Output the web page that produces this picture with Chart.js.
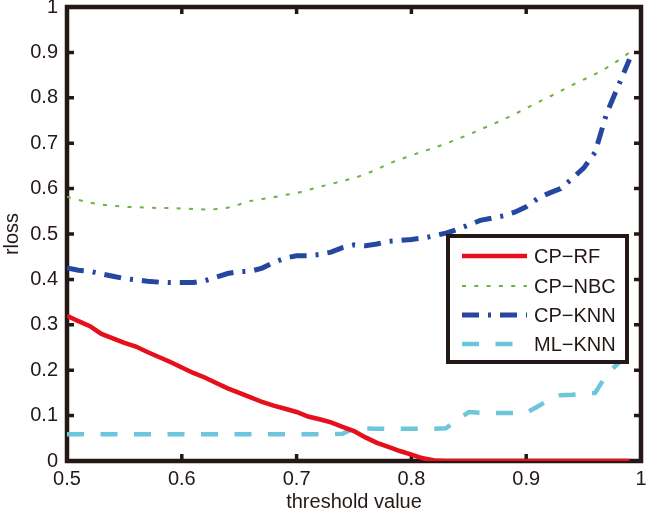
<!DOCTYPE html>
<html><head><meta charset="utf-8">
<script src="https://cdn.jsdelivr.net/npm/chart.js@4.4.1/dist/chart.umd.min.js"></script>
<style>html,body{margin:0;padding:0;background:#fff}canvas{display:block}</style>
</head><body>
<canvas id="c" width="646" height="514"></canvas>
<script>
const thresholds = [0.50,0.51,0.52,0.53,0.54,0.55,0.56,0.57,0.58,0.59,
  0.60,0.61,0.62,0.63,0.64,0.65,0.66,0.67,0.68,0.69,
  0.70,0.71,0.72,0.73,0.74,0.75,0.76,0.77,0.78,0.79,
  0.80,0.81,0.82,0.83,0.84,0.85,0.86,0.87,0.88,0.89,
  0.90,0.91,0.92,0.93,0.94,0.95,0.96,0.97,0.98,0.99];

const cpRF = [0.320,0.308,0.297,0.280,0.270,0.260,0.252,0.240,0.229,0.218,
  0.206,0.194,0.184,0.172,0.160,0.150,0.140,0.130,0.122,0.115,
  0.108,0.098,0.092,0.085,0.075,0.066,0.052,0.040,0.031,0.022,
  0.014,0.006,0.001,0,0,0,0,0,0,0,
  0,0,0,0,0,0,0,0,0,0];

const cpNBC = [0.582,0.575,0.569,0.565,0.562,0.560,0.559,0.558,0.557,0.557,
  0.556,0.555,0.554,0.555,0.558,0.565,0.573,0.577,0.581,0.586,
  0.590,0.597,0.604,0.610,0.617,0.623,0.632,0.642,0.655,0.664,
  0.673,0.682,0.690,0.699,0.709,0.719,0.730,0.741,0.752,0.764,
  0.777,0.790,0.802,0.815,0.828,0.840,0.852,0.866,0.882,0.900];

const cpKNN = [0.425,0.420,0.418,0.412,0.407,0.402,0.399,0.396,0.394,0.393,
  0.393,0.393,0.397,0.405,0.413,0.417,0.418,0.425,0.437,0.447,
  0.452,0.452,0.455,0.460,0.470,0.476,0.474,0.478,0.484,0.486,
  0.488,0.491,0.496,0.502,0.510,0.520,0.530,0.535,0.540,0.548,
  0.560,0.578,0.590,0.600,0.622,0.645,0.680,0.765,0.825,0.885];

const mlKNN = [0.059,0.059,0.059,0.059,0.059,0.059,0.059,0.059,0.059,0.059,
  0.059,0.059,0.059,0.059,0.059,0.059,0.059,0.059,0.059,0.059,
  0.059,0.059,0.059,0.059,0.060,0.072,0.072,0.071,0.071,0.071,
  0.071,0.071,0.071,0.072,0.090,0.108,0.106,0.106,0.106,0.106,
  0.106,0.120,0.135,0.145,0.146,0.148,0.150,0.190,0.215,0.235];

const seriesNames = ['CP\u2212RF','CP\u2212NBC','CP\u2212KNN','ML\u2212KNN'];
const xTickLabels = ['0.5','0.6','0.7','0.8','0.9','1'];
const yTickLabels = ['0','0.1','0.2','0.3','0.4','0.5','0.6','0.7','0.8','0.9','1'];

const FONT = '"Liberation Sans", Arial, Helvetica, sans-serif';
const INK = '#231815';

function pts(ys){ return thresholds.map((x,i)=>({x:x,y:ys[i]})); }

const framePlugin = {
  id:'frame',
  beforeDatasetsDraw(chart){
    const {ctx, chartArea:a, scales} = chart;
    ctx.save();
    ctx.strokeStyle = INK;
    ctx.lineWidth = 4.5;
    ctx.strokeRect(a.left, a.top, a.right-a.left, a.bottom-a.top);
    ctx.lineWidth = 3.5;
    ctx.beginPath();
    for (let i=1;i<yTickLabels.length-1;i++){
      const py = scales.y.getPixelForValue(parseFloat(yTickLabels[i]));
      ctx.moveTo(a.left, py); ctx.lineTo(a.left+7, py);
      ctx.moveTo(a.right, py); ctx.lineTo(a.right-7, py);
    }
    for (let i=1;i<xTickLabels.length-1;i++){
      const px = scales.x.getPixelForValue(parseFloat(xTickLabels[i]));
      ctx.moveTo(px, a.bottom); ctx.lineTo(px, a.bottom-7);
      ctx.moveTo(px, a.top); ctx.lineTo(px, a.top+7);
    }
    ctx.stroke();
    ctx.restore();
  }
};

const legendPlugin = {
  id:'boxLegend',
  afterDatasetsDraw(chart){
    const ctx = chart.ctx;
    const L=448, T=236, R=627, B=362;
    ctx.save();
    ctx.fillStyle='#fff';
    ctx.fillRect(L,T,R-L,B-T);
    ctx.strokeStyle=INK; ctx.lineWidth=4;
    ctx.strokeRect(L,T,R-L,B-T);
    const rows=[256,286,315,344];
    chart.data.datasets.forEach((ds,i)=>{
      const y=rows[i];
      ctx.beginPath();
      ctx.strokeStyle=ds.borderColor;
      ctx.lineWidth=ds.borderWidth;
      ctx.setLineDash(ds.borderDash||[]);
      ctx.moveTo(462,y); ctx.lineTo(527,y);
      ctx.stroke();
      ctx.setLineDash([]);
      ctx.fillStyle=INK;
      ctx.font='20px '+FONT;
      ctx.textBaseline='middle';
      ctx.textAlign='left';
      ctx.fillText(ds.label,534,y+1);
    });
    ctx.restore();
  }
};

new Chart(document.getElementById('c'), {
  type:'line',
  data:{
    datasets:[
      {label:seriesNames[0], data:pts(cpRF), borderColor:'#e60f1c', borderWidth:4.5, pointRadius:0, fill:false, tension:0},
      {label:seriesNames[1], data:pts(cpNBC), borderColor:'#6cb33f', borderWidth:2, borderDash:[4,8.3], pointRadius:0, fill:false, tension:0},
      {label:seriesNames[2], data:pts(cpKNN), borderColor:'#2547a0', borderWidth:5, borderDash:[17,9,3,9], pointRadius:0, fill:false, tension:0},
      {label:seriesNames[3], data:pts(mlKNN), borderColor:'#6ec6dc', borderWidth:4.5, borderDash:[17,16.5], pointRadius:0, fill:false, tension:0}
    ]
  },
  options:{
    responsive:false,
    animation:false,
    layout:{padding:{left:0,right:5,top:7,bottom:0}},
    plugins:{legend:{display:false}, tooltip:{enabled:false}},
    scales:{
      x:{
        type:'linear', min:0.5, max:1,
        grid:{display:false, drawTicks:false}, border:{display:false},
        ticks:{stepSize:0.1, color:INK, font:{family:FONT,size:20}, padding:6, maxRotation:0,
          callback:(v)=>{const i=Math.round((v-0.5)*10); return xTickLabels[i];}},
        title:{display:true, text:'threshold value', color:INK, font:{family:FONT,size:20}, padding:{top:0,bottom:0}},
        afterFit(s){ s.height=53; s.paddingLeft=0; s.paddingRight=0; }
      },
      y:{
        type:'linear', min:0, max:1,
        grid:{display:false, drawTicks:false}, border:{display:false},
        ticks:{stepSize:0.1, color:INK, font:{family:FONT,size:20}, padding:9,
          callback:(v)=>{const i=Math.round(v*10); return yTickLabels[i];}},
        title:{display:true, text:'rloss', color:INK, font:{family:FONT,size:20}, padding:{top:0,bottom:0}},
        afterFit(s){ s.width=67; s.paddingTop=0; s.paddingBottom=0; }
      }
    }
  },
  plugins:[framePlugin, legendPlugin]
});
</script>
</body></html>
